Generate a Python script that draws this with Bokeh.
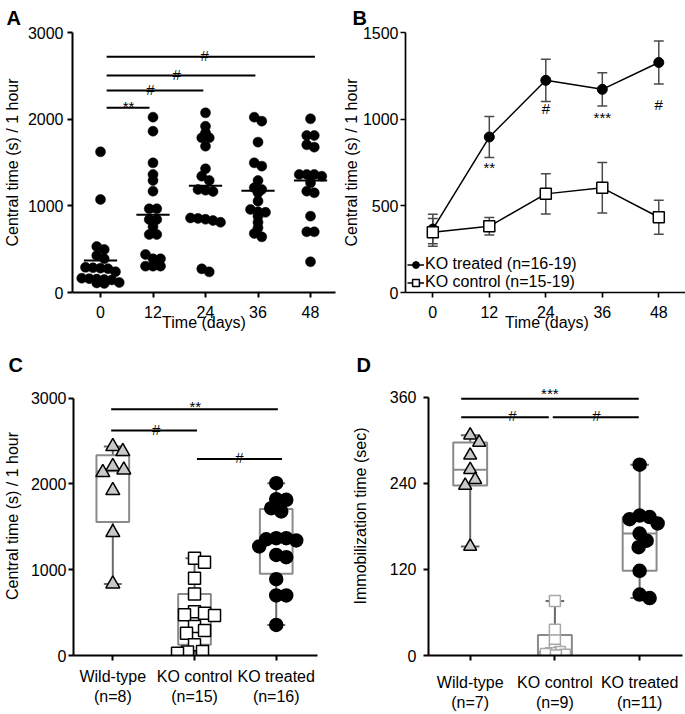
import numpy as np
from bokeh.plotting import figure
from bokeh.layouts import column, row
from bokeh.models import Range1d, FixedTicker, Title, Legend, LegendItem
from bokeh.core.properties import value
from bokeh.embed import file_html
from bokeh.resources import INLINE

FONT = "Liberation Sans"

# ---------------- data ----------------
# Panel A: central time per animal, by day
A_days = [0, 12, 24, 36, 48]
A_day0 = [1623, 1073, 530, 496, 427, 389, 290, 285, 280, 275, 240, 165, 160, 155, 150, 145, 115, 110, 105]
A_day12 = [2023, 1861, 1496, 1362, 1292, 1169, 966, 966, 842, 842, 758, 669, 669, 438, 389, 389, 304, 304, 304]
A_day24 = [2073, 1919, 1842, 1785, 1785, 1688, 1427, 1342, 1292, 1188, 1180, 1165, 860, 845, 810, 830, 855, 273, 238]
A_day36 = [2023, 1977, 1735, 1496, 1458, 1292, 1208, 1188, 1150, 1054, 958, 931, 925, 881, 811, 746, 681, 642]
A_day48 = [2004, 1811, 1811, 1704, 1677, 1362, 1362, 1362, 1342, 1265, 1169, 1150, 881, 700, 700, 354]
A_sig_x0 = [1.4, 1.4, 1.4, 1.4]
A_sig_x1 = [11.2, 23.5, 35.4, 49.0]
A_sig_y = [2131, 2331, 2504, 2719]
A_sig_text = ["**", "#", "#", "#"]
A_sig_tx = [6.4, 11.4, 17.4, 23.8]
A_sig_ty = [2145, 2345, 2518, 2733]

# Panel B: mean +/- SEM
B_days = [0, 12, 24, 36, 48]
B_treated = [366, 897, 1224, 1172, 1327]
B_treated_err = [85, 118, 122, 96, 124]
B_control = [347, 382, 569, 604, 434]
B_control_err = [80, 50, 116, 146, 98]
B_sig_day = [12, 24, 36, 48]
B_sig_text = ["**", "#", "***", "#"]
B_sig_y = [720, 1064, 1010, 1083]

# Panel C
C_labels = ["Wild-type\n(n=8)", "KO control\n(n=15)", "KO treated\n(n=16)"]
C_wt = [2437, 2378, 2204, 2164, 2134, 1924, 1434, 835]
C_koc = [1135, 1088, 901, 718, 510, 493, 474, 466, 338, 291, 260, 124, 47, 40, 27]
C_kot = [2009, 1822, 1815, 1718, 1679, 1368, 1368, 1355, 1341, 1271, 1173, 1146, 890, 700, 700, 357]
C_sig_x0 = [0.98, 2.03, 0.98]
C_sig_x1 = [2.03, 3.07, 3.02]
C_sig_y = [2622, 2292, 2870]
C_sig_text = ["#", "#", "**"]
C_sig_tx = [1.53, 2.55, 2.01]
C_sig_ty = [2640, 2310, 2907]

# Panel D
D_labels = ["Wild-type\n(n=7)", "KO control\n(n=9)", "KO treated\n(n=11)"]
D_wt = [307, 297, 279, 259, 245, 237, 152]
D_koc = [76, 36, 21, 8, 5, 3, 2, 1, 0]
D_kot = [266, 195, 193, 190, 184, 170, 160, 151, 118, 85, 80]
D_sig_x0 = [0.894, 1.975, 0.894]
D_sig_x1 = [1.928, 2.99, 2.99]
D_sig_y = [332, 332, 357.8]
D_sig_text = ["#", "#", "***"]
D_sig_tx = [1.5, 2.49, 1.94]
D_sig_ty = [334, 334, 365]


# ---------------- helpers ----------------
def rows_layout(vals, px_x, px_y, bin_px, sp_px):
    """Scatter-dot-plot layout: values within bin_px of a row share it, centred side by side."""
    order = sorted(range(len(vals)), key=lambda i: -vals[i])
    rows = []
    for i in order:
        if rows and (vals[rows[-1][0]] - vals[i]) * px_y <= bin_px:
            rows[-1].append(i)
        else:
            rows.append([i])
    offs = [0.0] * len(vals)
    for r in rows:
        n = len(r)
        for j, i in enumerate(r):
            offs[i] = (j - (n - 1) / 2) * sp_px / px_x
    return offs


def swarm(vals, px_x, px_y, d_px, step_px=1.0):
    """Deterministic beeswarm offsets (data units)."""
    placed = []
    offs = [0.0] * len(vals)
    order = sorted(range(len(vals)), key=lambda i: -vals[i])
    for i in order:
        yp = vals[i] * px_y
        near = [(a, b) for a, b in placed if abs(b - yp) < d_px]
        bal = sum(a for a, _ in near)
        sign = -1 if bal > 0 else 1
        k = 0
        pos = None
        while pos is None:
            cands = [0.0] if k == 0 else [sign * k * step_px, -sign * k * step_px]
            for c in cands:
                if all((c - a) ** 2 + (yp - b) ** 2 >= d_px ** 2 for a, b in placed):
                    pos = c
                    break
            k += 1
        placed.append((pos, yp))
        offs[i] = pos / px_x
    return offs


def make_fig(fw, fh, left, right, top, bottom, xr, yr):
    p = figure(frame_width=fw, frame_height=fh, min_border=0,
               min_border_left=left, min_border_right=right,
               min_border_top=top, min_border_bottom=bottom,
               x_range=Range1d(*xr), y_range=Range1d(*yr),
               output_backend="svg", toolbar_location=None, title=None)
    p.outline_line_color = None
    p.xgrid.grid_line_color = None
    p.ygrid.grid_line_color = None
    p.background_fill_color = "white"
    p.border_fill_color = "white"
    return p


def style_axis(ax, label, ticks, tick_standoff, label_standoff, lw=2):
    ax.axis_label = label
    ax.axis_label_text_font = FONT
    ax.axis_label_text_font_size = "16px"
    ax.axis_label_text_font_style = "normal"
    ax.axis_label_text_color = "black"
    ax.axis_label_standoff = label_standoff
    ax.major_label_text_font = FONT
    ax.major_label_text_font_size = "16px"
    ax.major_label_text_color = "black"
    ax.major_label_standoff = tick_standoff
    ax.axis_line_width = lw
    ax.axis_line_color = "black"
    ax.major_tick_line_width = lw
    ax.major_tick_line_color = "black"
    ax.major_tick_out = 5
    ax.major_tick_in = 0
    ax.minor_tick_line_color = None
    ax.ticker = FixedTicker(ticks=ticks)


def letter(p, txt, offset, standoff):
    p.add_layout(Title(text=txt, align="left", offset=offset, standoff=standoff,
                       text_font=FONT, text_font_style="bold", text_font_size="20px",
                       text_color="black"), "above")


def sig(p, x0, x1, y, text, tx, ty, lw=2, size="15px"):
    p.segment(x0, y, x1, y, line_color="black", line_width=lw)
    p.text(tx, ty, text=text, text_font=value(FONT), text_font_size=size,
           text_align="center", text_baseline="alphabetic", text_color="black")


# ---------------- Panel A ----------------
pA = make_fig(263, 260, 69, 4, 32, 58, (-6.4, 53.71), (0, 3000))
style_axis(pA.xaxis[0], "Time (days)", A_days, 8, -7)
style_axis(pA.yaxis[0], "Central time (s) / 1 hour", [0, 1000, 2000, 3000], 4, 4)
A_px_x = 4.375
A_px_y = 260 / 3000
for d, vals in zip(A_days, [A_day0, A_day12, A_day24, A_day36, A_day48]):
    offs = rows_layout(vals, A_px_x, A_px_y, 4.5, 7.5)
    pA.scatter([d + o for o in offs], vals, marker="circle", size=10,
               fill_color="black", line_color="black", line_width=0.5)
    m = float(np.mean(vals))
    pA.segment([d - 3.8], [m], [d + 3.8], [m], line_color="black", line_width=2)
sig(pA, A_sig_x0, A_sig_x1, A_sig_y, A_sig_text, A_sig_tx, A_sig_ty, lw=2, size="15px")
letter(pA, "A", -66, 7)

# ---------------- Panel B ----------------
pB = make_fig(283, 260, 64, 2, 32, 58, (-5.8, 54.31), (0, 1500))
style_axis(pB.xaxis[0], "Time (days)", B_days, 8, -7, lw=1.7)
style_axis(pB.yaxis[0], "Central time (s) / 1 hour", [0, 500, 1000, 1500], 2, 0, lw=1.7)
ERR = "#4a4a4a"
CAPB = 1.05
for means, errs in [(B_treated, B_treated_err), (B_control, B_control_err)]:
    lo = [m - e for m, e in zip(means, errs)]
    hi = [m + e for m, e in zip(means, errs)]
    pB.segment(B_days, lo, B_days, hi, line_color=ERR, line_width=1.5)
    pB.segment([d - CAPB for d in B_days], hi, [d + CAPB for d in B_days], hi, line_color=ERR, line_width=1.5)
    pB.segment([d - CAPB for d in B_days], lo, [d + CAPB for d in B_days], lo, line_color=ERR, line_width=1.5)
lt = pB.line(B_days, B_treated, line_color="black", line_width=1.5)
lc = pB.line(B_days, B_control, line_color="black", line_width=1.5)
st = pB.scatter(B_days, B_treated, marker="circle", size=10, fill_color="black", line_color="black")
sc = pB.scatter(B_days, B_control, marker="square", size=11, fill_color="white", line_color="black", line_width=1.5)
pB.text(B_sig_day, B_sig_y, text=B_sig_text, text_font=value(FONT), text_font_size="15px",
        text_align="center", text_baseline="alphabetic", text_color="black")
leg = Legend(items=[LegendItem(label="KO treated (n=16-19)", renderers=[lt, st]),
                    LegendItem(label="KO control (n=15-19)", renderers=[lc, sc])],
             location=(2, 1), padding=0, margin=0, spacing=0,
             glyph_width=17, glyph_height=17, label_height=17, label_standoff=1,
             label_text_font=FONT, label_text_font_size="16px", label_text_color="black",
             border_line_color=None, background_fill_alpha=0)
pB.add_layout(leg)
letter(pB, "B", -53, 7)

# ---------------- box panels ----------------
BOXC = "#8a8a8a"
WHISK = "#6a6a6a"
BW = 0.2
CAP = 0.11


def box_group(p, xc, vals, px_x, px_y, d_px, marker, size, fill, edge):
    q1, med, q3 = np.percentile(vals, [25, 50, 75], method="weibull")
    lo, hi = min(vals), max(vals)
    p.segment([xc, xc], [q3, q1], [xc, xc], [hi, lo], line_color=WHISK, line_width=2)
    p.segment([xc - CAP, xc - CAP], [hi, lo], [xc + CAP, xc + CAP], [hi, lo], line_color=WHISK, line_width=2)
    p.quad(left=[xc - BW], right=[xc + BW], bottom=[q1], top=[q3],
           fill_color="white", line_color=BOXC, line_width=2)
    p.segment([xc - BW], [med], [xc + BW], [med], line_color=BOXC, line_width=2)
    offs = swarm(vals, px_x, px_y, d_px)
    p.scatter([xc + o for o in offs], vals, marker=marker, size=size,
              fill_color=fill, line_color=edge, line_width=1.5)


# ---------------- Panel C ----------------
pC = make_fig(244, 279, 69, 31, 26, 59, (0.519, 3.505), (0, 3253))
style_axis(pC.xaxis[0], "", [1, 2, 3], 7, 0)
pC.xaxis[0].major_label_overrides = {1: C_labels[0], 2: C_labels[1], 3: C_labels[2]}
style_axis(pC.yaxis[0], "Central time (s) / 1 hour", [0, 1000, 2000, 3000], 2, 7)
pC.yaxis[0].bounds = (0, 3000)
C_px_x, C_px_y = 81.7, 279 / 3253
box_group(pC, 1, C_wt, C_px_x, C_px_y, 11, "triangle", 14, "#c8c8c8", "black")
box_group(pC, 2, C_koc, C_px_x, C_px_y, 10, "square", 12, "white", "black")
box_group(pC, 3, C_kot, C_px_x, C_px_y, 10, "circle", 13, "black", "black")
sig(pC, C_sig_x0, C_sig_x1, C_sig_y, C_sig_text, C_sig_tx, C_sig_ty)
letter(pC, "C", -65, 2)

# ---------------- Panel D ----------------
pD = make_fig(254, 279, 75, 12, 26, 59, (0.508, 3.506), (0, 388.85))
style_axis(pD.xaxis[0], "", [1, 2, 3], 13, 0)
pD.xaxis[0].major_label_overrides = {1: D_labels[0], 2: D_labels[1], 3: D_labels[2]}
style_axis(pD.yaxis[0], "Immobilization time (sec)", [0, 120, 240, 360], 7, 18)
pD.yaxis[0].bounds = (0, 360)
D_px_x, D_px_y = 84.7, 0.7175
box_group(pD, 1, D_wt, D_px_x, D_px_y, 11, "triangle", 13, "#c8c8c8", "black")
box_group(pD, 2, D_koc, D_px_x, D_px_y, 5, "square", 11, "white", "#a8a8a8")
box_group(pD, 3, D_kot, D_px_x, D_px_y, 10, "circle", 13, "black", "black")
sig(pD, D_sig_x0, D_sig_x1, D_sig_y, D_sig_text, D_sig_tx, D_sig_ty)
letter(pD, "D", -72, 2)

layout = column(row(pA, pB), row(pC, pD))
open("out.html", "w").write(file_html(layout, INLINE))
